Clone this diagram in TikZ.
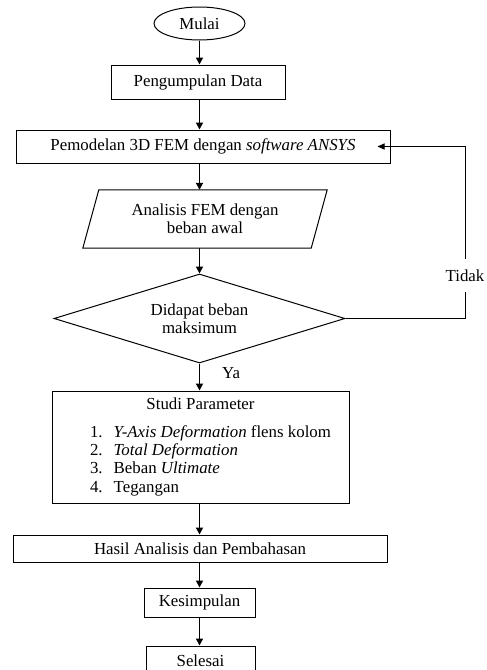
\documentclass[tikz,border=0pt]{standalone}
\usepackage{fontspec}
\setmainfont{Liberation Serif}
\usepackage{tikz}
\usetikzlibrary{arrows.meta,shapes.geometric}

\tikzset{
  procbox/.style={draw, line width=1pt, inner sep=2pt},
  flowarr/.style={-{Triangle[length=7pt,width=7pt]}, line width=1.8pt},
  backline/.style={line width=0.9pt},
}

\begin{document}
\begin{tikzpicture}[x=1pt,y=1pt,yscale=-1,xscale=1,
    font=\fontsize{16.85}{18.3}\selectfont]

        \clip (0,0) rectangle (487,670);
        \fill[white] (0,0) rectangle (487,670);

        \node [procbox, ellipse, minimum width=91, minimum height=33] (mulai) at (199.5,23.5) {Mulai};
        \node [procbox, minimum width=174, minimum height=34] (kumpul) at (198,82) {Pengumpulan Data};
        \node [procbox, minimum width=374, minimum height=33] (model) at (203,146.5) {Pemodelan 3D FEM dengan \textit{software ANSYS}};
        \node [minimum width=228, minimum height=58, align=center, inner sep=0pt] (analisis) at (205,219) {Analisis FEM dengan\\beban awal};
        \draw [line width=1pt] ([xshift=8pt]analisis.north west) -- ([xshift=8pt]analisis.north east) -- ([xshift=-8pt]analisis.south east) -- ([xshift=-8pt]analisis.south west) -- cycle;
        \node [procbox, diamond, aspect=3.27, minimum width=291, minimum height=89, align=center, inner sep=0pt] (cek) at (199.5,318.5) {Didapat beban\\maksimum};
        \node [procbox, minimum width=297, minimum height=112] (studi) at (200.5,447) {%
          \begin{tabular}{@{\hspace{20pt}}r@{\hspace{11pt}}l@{}}
            \multicolumn{2}{@{}c@{}}{Studi Parameter}\\[9.7pt]
            1. & \textit{Y-Axis Deformation} flens kolom\\
            2. & \textit{Total Deformation}\\
            3. & Beban \textit{Ultimate}\\
            4. & Tegangan
          \end{tabular}};
        \node [procbox, minimum width=374, minimum height=27] (hasil) at (200,548.5) {Hasil Analisis dan Pembahasan};
        \node [procbox, minimum width=111, minimum height=29] (simpul) at (199.5,602.5) {Kesimpulan};
        \node [procbox, minimum width=109, minimum height=29] (selesai) at (200.5,660.5) {Selesai};

        \node [inner sep=0pt, minimum height=33] (tidak) at (465,275.5) {Tidak};
        \node [inner sep=0pt] (ya) at (231,373) {Ya};

        % main flow
        \draw [flowarr] (mulai.south -| cek.center) -- (kumpul.north -| cek.center);
        \draw [flowarr] (kumpul.south -| cek.center) -- (model.north -| cek.center);
        \draw [flowarr] (model.south -| cek.center) -- (analisis.north -| cek.center);
        \draw [flowarr] (analisis.south -| cek.center) -- (cek.north);
        \draw [flowarr] (cek.south) -- (studi.north -| cek.center);
        \draw [flowarr] (studi.south -| cek.center) -- (hasil.north -| cek.center);
        \draw [flowarr] (hasil.south -| cek.center) -- (simpul.north -| cek.center);
        \draw [flowarr] (simpul.south -| cek.center) -- (selesai.north -| cek.center);

        % loop back
        \draw [backline] (cek.east) -| (tidak.south);
        \draw [backline, -{Triangle[length=7pt,width=6pt]}] (tidak.north) |- ([xshift=-13pt]model.east);
    \end{tikzpicture}
\end{document}
